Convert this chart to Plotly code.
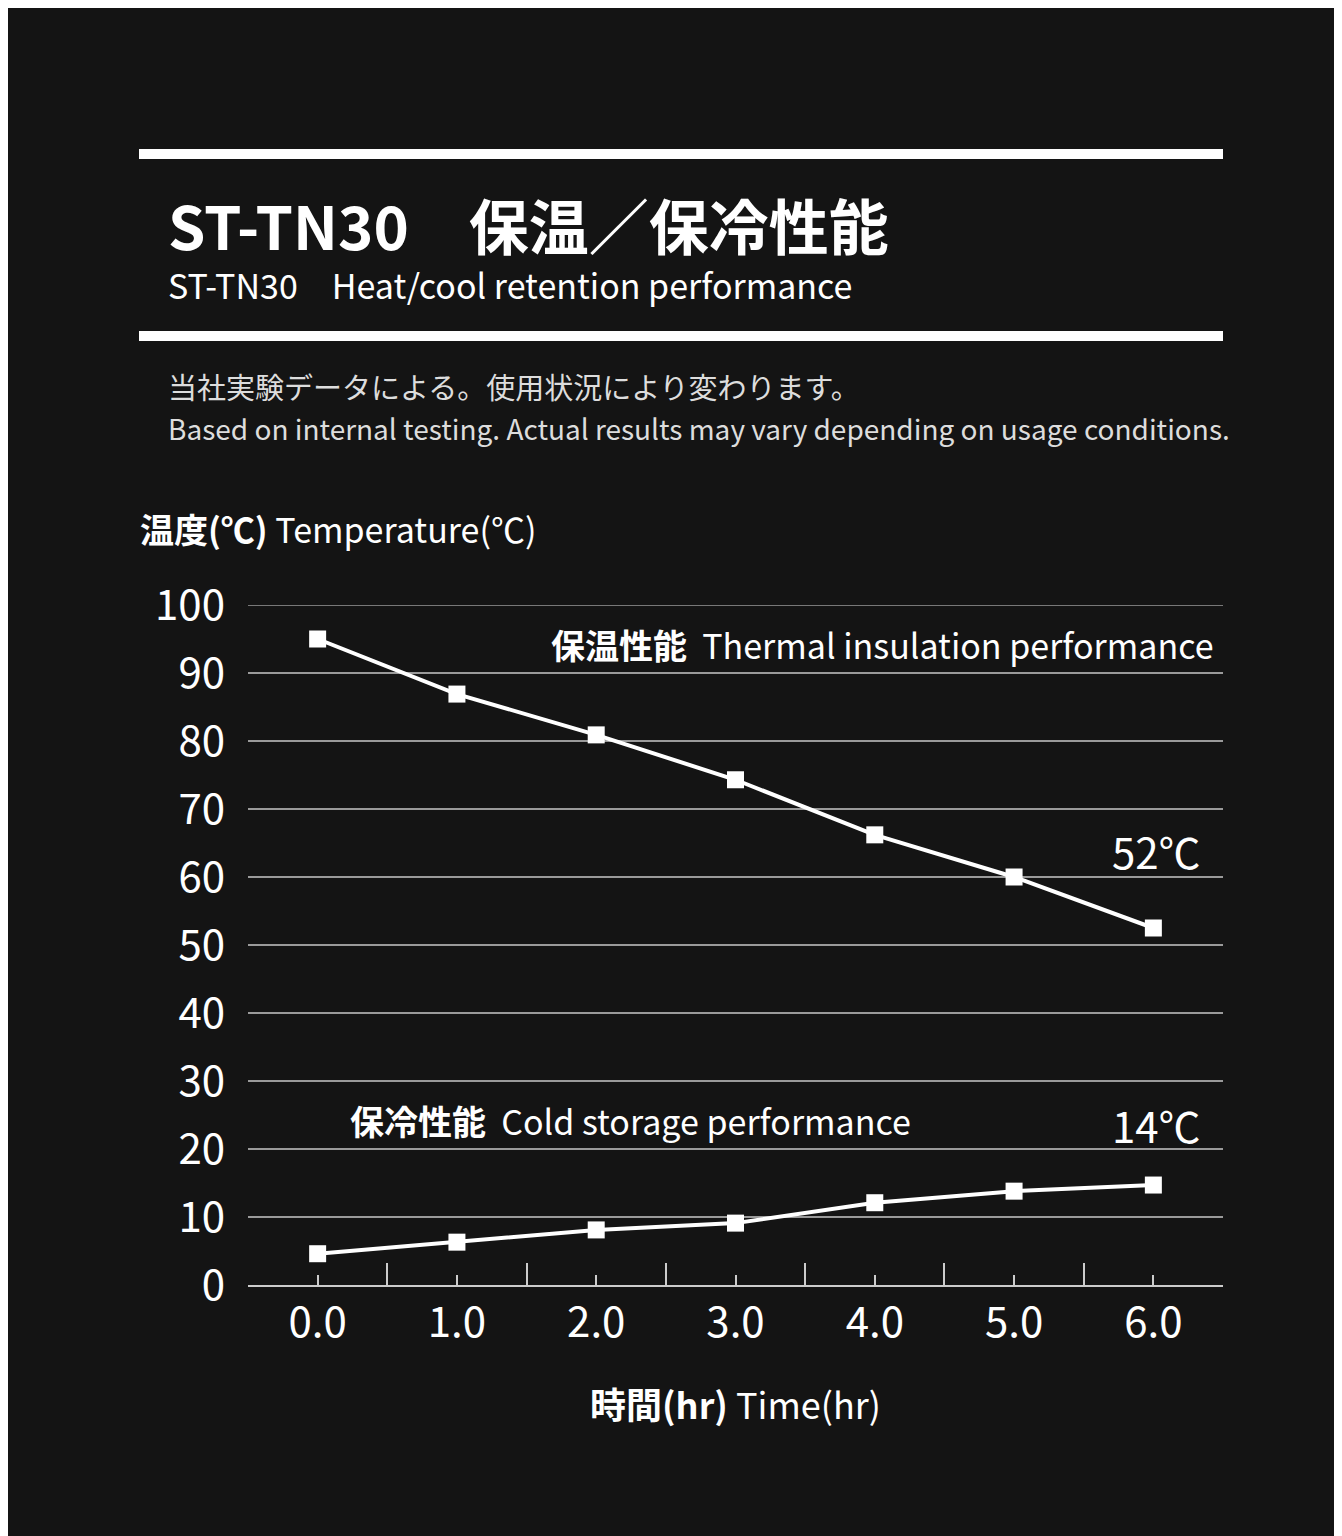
import plotly.graph_objects as go

hours = [0, 1, 2, 3, 4, 5, 6]
hot_temp = [95, 86.9, 80.9, 74.3, 66.2, 60, 52.5]
cold_temp = [4.6, 6.3, 8.1, 9.1, 12.1, 13.8, 14.7]
x_ticks = ["0.0", "1.0", "2.0", "3.0", "4.0", "5.0", "6.0"]
y_ticks = [0, 10, 20, 30, 40, 50, 60, 70, 80, 90, 100]

W, H = 1342, 1536
L, R, T, B = 240, 127, 597, 259
FONT = "Noto Sans CJK JP"


def px(x, y):
    # page pixels -> paper coords
    return (x - L) / (W - L - R), (H - B - y) / (H - T - B)


fig = go.Figure()
for ys in (hot_temp, cold_temp):
    fig.add_trace(go.Scatter(
        x=hours, y=ys, mode="lines+markers",
        line=dict(color="white", width=4),
        marker=dict(symbol="square", size=17, color="white"),
        showlegend=False, cliponaxis=False,
    ))

anns = []


def txt(x, y, text, size, anchor="left", color="white"):
    ax, ay = px(x, y)
    anns.append(dict(x=ax, y=ay, xref="paper", yref="paper", text=text,
                     showarrow=False, xanchor=anchor, yanchor="middle",
                     font=dict(family=FONT, size=size, color=color)))


txt(158, 215, "<b>ST-TN30　保温／保冷性能</b>", 60)
txt(158, 277, "ST-TN30　Heat/cool retention performance", 34)
txt(158, 378, "当社実験データによる。使用状況により変わります。", 29, color="#dddddd")
txt(158, 420, "Based on internal testing. Actual results may vary depending on usage conditions.", 28, color="#dddddd")
txt(130, 520, "<b>温度(℃)</b> Temperature(℃)", 34)
txt(1208, 636, "<b>保温性能</b>  Thermal insulation performance", 34, anchor="right")
txt(340, 1112, "<b>保冷性能</b>  Cold storage performance", 34)
txt(1195, 842, "52℃", 42, anchor="right")
txt(1195, 1116, "14℃", 42, anchor="right")
txt(727, 1395, "<b>時間(hr)</b> Time(hr)", 36, anchor="center")

shapes = []
for yy in (146, 328):
    x0, y0 = px(131, yy - 5)
    x1, y1 = px(1215, yy + 5)
    shapes.append(dict(type="rect", xref="paper", yref="paper", x0=x0, x1=x1,
                       y0=y0, y1=y1, fillcolor="white", line_width=0))
# top gridline at 100 (plotly skips the grid line on the range edge)
shapes.append(dict(type="line", xref="paper", yref="y", x0=0, x1=1,
                   y0=y_ticks[-1], y1=y_ticks[-1],
                   line=dict(color="#9a9a9a", width=1.5)))

fig.update_layout(
    width=W, height=H,
    margin=dict(l=L, r=R, t=T, b=B),
    paper_bgcolor="#141414", plot_bgcolor="#141414",
    annotations=anns, shapes=shapes,
    xaxis=dict(range=[-0.5, 6.5], tickvals=hours, ticktext=x_ticks,
               ticks="inside", ticklen=10, tickwidth=2, tickcolor="#cccccc",
               minor=dict(dtick=1, tick0=-0.5, ticks="inside", ticklen=22,
                          tickwidth=2, tickcolor="#cccccc", showgrid=False),
               showline=True, linecolor="#cccccc", linewidth=2, showgrid=False,
               zeroline=False,
               tickfont=dict(family=FONT, size=42, color="white")),
    yaxis=dict(range=[0, 100], tickvals=y_ticks, showgrid=True,
               gridcolor="#9a9a9a", gridwidth=1.5, zeroline=False,
               showline=False, ticks="", ticklabelstandoff=22,
               tickfont=dict(family=FONT, size=42, color="white")),
)
fig.write_html("out.html")
